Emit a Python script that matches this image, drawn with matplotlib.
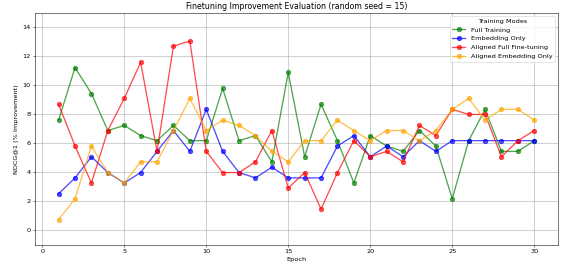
import numpy as np
import matplotlib
matplotlib.use('Agg')
import matplotlib.pyplot as plt

#epochs and per-mode NDCG@1 improvement
epochs = np.arange(1, 31)
full_training = [7.61, 11.23, 9.44, 6.89, 7.24, 6.54, 6.19, 7.24, 6.19, 6.19,
                 9.79, 6.19, 6.54, 4.73, 10.9, 5.08, 8.70, 6.19, 3.27, 6.54,
                 5.82, 5.45, 6.89, 5.82, 2.18, 6.19, 8.35, 5.45, 5.45, 6.19]
embedding_only = [2.53, 3.62, 5.08, 3.99, 3.27, 3.99, 5.45, 6.89, 5.45, 8.35,
                  5.45, 3.99, 3.62, 4.36, 3.62, 3.62, 3.62, 5.82, 6.54, 5.08,
                  5.82, 5.08, 6.19, 5.45, 6.19, 6.19, 6.19, 6.19, 6.19, 6.19]
aligned_full = [8.70, 5.82, 3.27, 6.89, 9.10, 11.6, 5.45, 12.71, 13.06, 5.45,
                3.99, 3.99, 4.73, 6.89, 2.92, 3.99, 1.46, 3.99, 6.19, 5.08,
                5.45, 4.73, 7.24, 6.54, 8.35, 8.0, 8.0, 5.08, 6.19, 6.89]
aligned_emb = [0.74, 2.18, 5.82, 3.99, 3.27, 4.73, 4.73, 6.89, 9.10, 6.89,
               7.61, 7.24, 6.54, 5.45, 4.73, 6.19, 6.19, 7.61, 6.89, 6.19,
               6.89, 6.89, 6.19, 6.89, 8.35, 9.10, 7.61, 8.35, 8.35, 7.61]

series = [
    ('Full Training', full_training, 'green'),
    ('Embedding Only', embedding_only, 'blue'),
    ('Aligned Full Fine-tuning', aligned_full, 'red'),
    ('Aligned Embedding Only', aligned_emb, 'orange'),
]

d = 46.8
fig = plt.figure(figsize=(562/d, 270/d), dpi=d)
ax = fig.add_axes([0.062, 0.093, 0.931, 0.859])

for name, vals, col in series:
    ax.plot(epochs, vals, marker='o', color=col, alpha=0.7, linewidth=2,
            markersize=7, label=name)

ax.set_ylim(-1, 15)
ax.set_title('Finetuning Improvement Evaluation (random seed = 15)', fontsize=12)
ax.set_xlabel('Epoch')
ax.set_ylabel('NDCG@1 (% Improvement)')
ax.grid(True, linewidth=1.5, alpha=0.6)
ax.legend(title='Training Modes', loc='upper right')

fig.savefig('out.png', dpi=d)
